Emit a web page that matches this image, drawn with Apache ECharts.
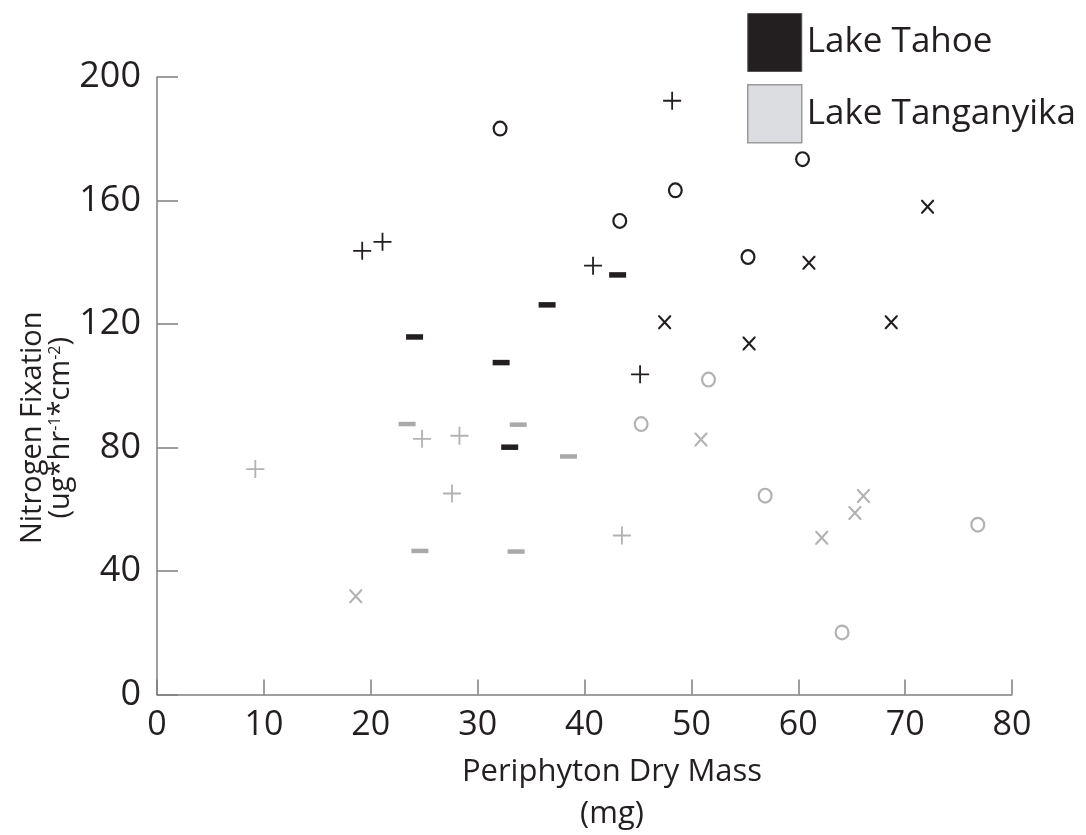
<!DOCTYPE html>
<html>
<head>
<meta charset="utf-8">
<style>html,body{margin:0;padding:0;background:#fff;}#c{width:1086px;height:835px;}</style>
<script src="https://cdn.jsdelivr.net/npm/echarts@6/dist/echarts.min.js"></script>
</head>
<body>
<div id="c"></div>
<script>
// ---- data (x: periphyton dry mass mg, y: nitrogen fixation) ----
var xTicks = [0, 10, 20, 30, 40, 50, 60, 70, 80];
var yTicks = [0, 40, 80, 120, 160, 200];
var seriesNames = ['Lake Tahoe', 'Lake Tanganyika'];

var tahoePlus  = [[48.2,192.3],[19.2,143.7],[21.1,146.6],[40.8,138.9],[45.2,103.7]];
var tahoeO     = [[32.1,183.3],[48.5,163.3],[43.3,153.4],[60.4,173.4],[55.3,141.7]];
var tahoeX     = [[72.1,158.0],[61.0,139.8],[47.5,120.6],[55.4,113.7],[68.7,120.6]];
var tahoeDash  = [[24.1,115.8],[32.2,107.5],[36.5,126.2],[43.1,135.9],[33.0,80.1]];

var tangPlus   = [[9.2,73.0],[24.8,82.8],[28.3,83.8],[27.6,65.1],[43.5,51.5]];
var tangO      = [[51.6,102.0],[45.3,87.6],[56.9,64.4],[76.8,55.0],[64.1,20.1]];
var tangX      = [[50.9,82.6],[66.1,64.3],[65.3,58.8],[62.2,50.8],[18.6,31.8]];
var tangDash   = [[23.4,87.6],[33.8,87.4],[38.5,77.1],[24.6,46.5],[33.6,46.3]];

// ---- styling ----
var FONT = '"Open Sans", "Noto Sans", sans-serif';
var DARK = '#231f20';
var GRAY = '#b2b2b2';
var AXIS = '#7f7f7f';

var PLUS = 'path://M0,8.1 L18,8.1 L18,9.9 L0,9.9 Z M8.1,0 L9.9,0 L9.9,18 L8.1,18 Z';
var RING = 'path://M7.5,0 A7.5,8 0 1,1 7.5,16 A7.5,8 0 1,1 7.5,0 Z M7.5,2.2 A5.3,5.8 0 1,0 7.5,13.8 A5.3,5.8 0 1,0 7.5,2.2 Z';
var CROSS = 'path://M0,0 L1.5,0 L13,12.5 L13,14 L11.5,14 L0,1.5 Z M13,0 L13,1.5 L1.5,14 L0,14 L0,12.5 L11.5,0 Z';

function mk(name, data, symbol, size, color) {
  return {
    type: 'scatter', name: name, data: data, symbol: symbol, symbolSize: size,
    itemStyle: { color: color, opacity: 1 }, silent: true
  };
}

var chart = echarts.init(document.getElementById('c'), null, { renderer: 'canvas' });
chart.setOption({
  animation: false,
  backgroundColor: '#ffffff',
  grid: { left: 157, top: 77, right: 74, bottom: 133, containLabel: false },
  legend: {
    orient: 'vertical', left: 747, top: 13, padding: 0,
    itemWidth: 54, itemHeight: 58, itemGap: 12,
    selectedMode: false,
    textStyle: { fontFamily: FONT, fontSize: 35, color: DARK, padding: [6, 0, 0, 0] },
    data: [
      { name: seriesNames[0], icon: 'rect', itemStyle: { color: DARK, borderColor: '#555', borderWidth: 1 } },
      { name: seriesNames[1], icon: 'rect', itemStyle: { color: '#dcdde0', borderColor: '#9a9a9a', borderWidth: 1.5 } }
    ]
  },
  xAxis: {
    type: 'value', min: xTicks[0], max: xTicks[xTicks.length - 1], interval: 10,
    name: '{t|Periphyton Dry Mass}\n{t|(mg)}',
    nameLocation: 'middle', nameGap: 57, nameMoveOverlap: false,
    nameTextStyle: { padding: [0, 0, 0, 55], rich: { t: { fontFamily: FONT, fontSize: 31, color: DARK, lineHeight: 42 } } },
    axisLine: { show: true, lineStyle: { color: AXIS, width: 1.5 } },
    axisTick: { show: true, inside: true, length: 15, lineStyle: { color: AXIS, width: 1.5 } },
    axisLabel: { fontFamily: FONT, fontSize: 34, color: DARK, margin: 14 },
    splitLine: { show: false }
  },
  yAxis: {
    type: 'value', min: yTicks[0], max: yTicks[yTicks.length - 1], interval: 40,
    name: '{t|Nitrogen Fixation}\n{t|(ug*hr}{s|-1}{t|*cm}{s|-2}{t|)}',
    nameLocation: 'middle', nameRotate: 90, nameGap: 82, nameMoveOverlap: false,
    nameTextStyle: {
      padding: [0, 84, 0, 0],
      rich: {
        t: { fontFamily: FONT, fontSize: 29, color: DARK, lineHeight: 28 },
        s: { fontFamily: FONT, fontSize: 16, color: DARK, lineHeight: 28, verticalAlign: 'top' }
      }
    },
    axisLine: { show: true, lineStyle: { color: AXIS, width: 1.5 } },
    axisTick: { show: true, inside: true, length: 21, lineStyle: { color: AXIS, width: 1.5 } },
    axisLabel: { fontFamily: FONT, fontSize: 36, color: DARK, margin: 16 },
    splitLine: { show: false }
  },
  series: [
    mk(seriesNames[0], tahoePlus, PLUS, [18, 18], DARK),
    mk(seriesNames[0], tahoeO, RING, [15, 16], DARK),
    mk(seriesNames[0], tahoeX, CROSS, [13, 14], DARK),
    mk(seriesNames[0], tahoeDash, 'rect', [17, 5.5], DARK),
    mk(seriesNames[1], tangPlus, PLUS, [18, 18], GRAY),
    mk(seriesNames[1], tangO, RING, [15, 16], GRAY),
    mk(seriesNames[1], tangX, CROSS, [13, 14], GRAY),
    mk(seriesNames[1], tangDash, 'rect', [17, 4.5], '#a9a9a9')
  ]
});
</script>
</body>
</html>
